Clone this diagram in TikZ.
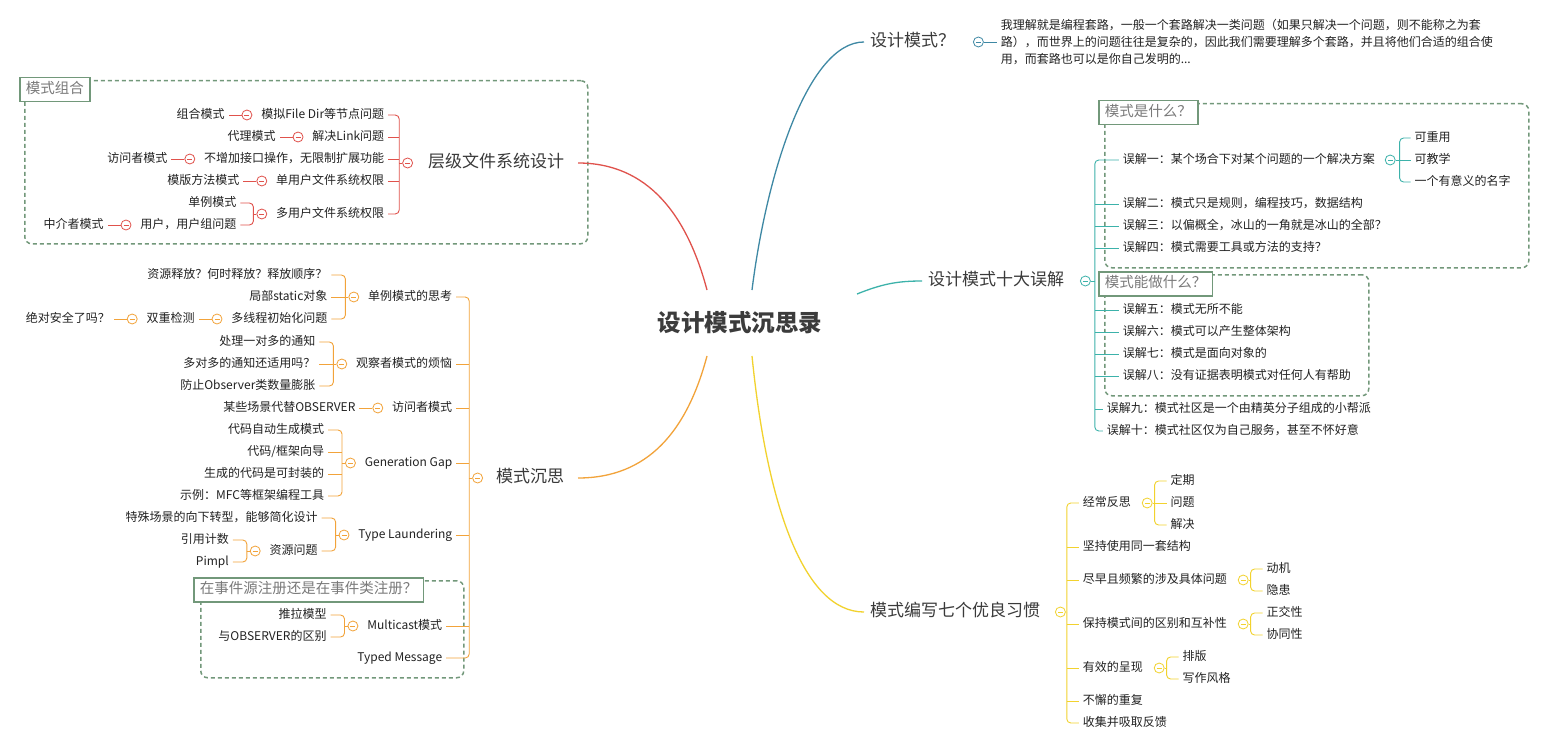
\documentclass[tikz,border=0pt]{standalone}
\usepackage{fontspec}
\setmainfont{Noto Sans CJK SC}
\usetikzlibrary{calc,positioning}
\definecolor{cRed}{HTML}{E0524C}
\definecolor{cBlue}{HTML}{3E88A4}
\definecolor{cTeal}{HTML}{3CB2AA}
\definecolor{cOrange}{HTML}{F2A33A}
\definecolor{cYellow}{HTML}{F2D22E}
\definecolor{cGreen}{HTML}{72987A}
\definecolor{cText}{HTML}{222222}
\definecolor{cTopic}{HTML}{3A3A3A}
\definecolor{cRoot}{HTML}{3C3C3C}
\definecolor{cLbl}{HTML}{7A7A7A}
\newcommand\fsA{\fontsize{12}{14}\selectfont}
\newcommand\fsT{\fontsize{12}{17}\selectfont}
\newcommand\fsB{\fontsize{17}{20}\selectfont}
\newcommand\fsC{\fontsize{23.5}{28}\selectfont\bfseries}
\newcommand\fsL{\fontsize{14.5}{17}\selectfont}
\newcommand\brL[3]{\draw[#1,br,rounded corners=4pt] (#2) |- (#3.east);}
\newcommand\brR[3]{\draw[#1,br,rounded corners=4pt] (#2) |- (#3.west);}
\newcommand\tkL[3]{\draw[#1,br] (#3.east) -- (#3.east -| #2);}
\newcommand\tkR[3]{\draw[#1,br] (#3.west) -- (#3.west -| #2);}
\tikzset{
  leaf/.style={inner sep=0pt, outer xsep=4pt, outer ysep=0pt, text=cText, font=\fsA, text height=9.5pt, text depth=2.5pt},
  leafL/.style={leaf, anchor=east},
  leafR/.style={leaf, anchor=west},
  topic/.style={inner sep=0pt, outer sep=0pt, text=cTopic, font=\fsB, text height=13pt, text depth=3.5pt},
  rootn/.style={inner sep=0pt, outer sep=0pt, text=cRoot, font=\fsC, minimum width=234pt, minimum height=66pt},
  foldc/.style={circle, draw=#1, fill=white, line width=0.8pt, minimum size=10pt, inner sep=0pt,
    path picture={\draw[#1, line width=0.7pt] ([xshift=-2.5pt]path picture bounding box.center) -- ([xshift=2.5pt]path picture bounding box.center);}},
  br/.style={line width=0.9pt},
  mainc/.style={line width=1.3pt},
  grpbox/.style={draw=cGreen, dash pattern=on 4pt off 3pt, line width=1.5pt, rounded corners=7pt, anchor=north west, inner sep=0pt},
  grplbl/.style={draw=cGreen, fill=white, line width=1.5pt, text=cLbl, font=\fsL, inner xsep=6pt, inner ysep=5pt, text height=11pt, text depth=3pt, anchor=north west}
}
\begin{document}
\begin{tikzpicture}[x=1pt,y=-1pt]
\fill[white] (0,0) rectangle (1545,749);
\useasboundingbox (0,0) rectangle (1545,749);

% ---------- group boxes ----------
\node[grpbox, minimum width=563pt, minimum height=163pt] (g1) at (24,80) {};
\node[grpbox, minimum width=263pt, minimum height=97pt] (g2) at (200,580) {};
\node[grpbox, minimum width=424pt, minimum height=164pt] (g3) at (1104,103) {};
\node[grpbox, minimum width=264pt, minimum height=121pt] (g4) at (1104,274) {};

% ---------- root and main topics ----------
\node[rootn] (root) at (740,323) {设计模式沉思录};
\node[topic, anchor=west] (h1) at (428,163) {层级文件系统设计};
\node[topic, anchor=west] (h2) at (496,478) {模式沉思};
\node[topic, anchor=west] (h3) at (870,42) {设计模式？};
\node[topic, anchor=west] (h4) at (928,281) {设计模式十大误解};
\node[topic, anchor=west] (h5) at (870,612) {模式编写七个优良习惯};

\draw[cRed,mainc] ([xshift=-33pt]root.north) .. controls +(-20,-75) and +(70,0) .. ([xshift=14pt]h1.east);
\draw[cOrange,mainc] ([xshift=-33pt]root.south) .. controls +(-20,75) and +(70,0) .. ([xshift=14pt]h2.east);
\draw[cBlue,mainc] ([xshift=12pt]root.north) .. controls +(15,-120) and +(-55,0) .. ([xshift=-6pt]h3.west);
\draw[cTeal,mainc] ([yshift=29pt]root.east) .. controls +(25,-10) and +(-25,0) .. ([xshift=-6pt]h4.west);
\draw[cYellow,mainc] ([xshift=12pt]root.south) .. controls +(15,150) and +(-60,0) .. ([xshift=-6pt]h5.west);

% ---------- 层级文件系统设计 (red) ----------
\node[foldc=cRed, left=15pt of h1] (fh1) {};
\coordinate (bh1) at ([xshift=-3pt]fh1.west);
\node[leafL] (a1) at ([shift={(-11,-48)}]bh1) {模拟File Dir等节点问题};
\node[leafL] (a2) at ([shift={(-11,-26)}]bh1) {解决Link问题};
\node[leafL] (a3) at ([shift={(-11,-4)}]bh1) {不增加接口操作，无限制扩展功能};
\node[leafL] (a4) at ([shift={(-11,18)}]bh1) {单用户文件系统权限};
\node[leafL] (a5) at ([shift={(-11,51)}]bh1) {多用户文件系统权限};
\draw[cRed,br] (fh1.west) -- (bh1);
\brL{cRed}{bh1}{a1}\tkL{cRed}{bh1}{a2}\tkL{cRed}{bh1}{a3}\tkL{cRed}{bh1}{a4}\brL{cRed}{bh1}{a5}

\node[foldc=cRed, left=5pt of a1] (fa1) {};
\node[leafL, left=13pt of fa1] (b1) {组合模式};
\draw[cRed,br] (fa1.west) -- (b1.east);
\node[foldc=cRed, left=5pt of a2] (fa2) {};
\node[leafL, left=13pt of fa2] (b2) {代理模式};
\draw[cRed,br] (fa2.west) -- (b2.east);
\node[foldc=cRed, left=5pt of a3] (fa3) {};
\node[leafL, left=13pt of fa3] (b3) {访问者模式};
\draw[cRed,br] (fa3.west) -- (b3.east);
\node[foldc=cRed, left=5pt of a4] (fa4) {};
\node[leafL, left=13pt of fa4] (b4) {模版方法模式};
\draw[cRed,br] (fa4.west) -- (b4.east);
\node[foldc=cRed, left=5pt of a5] (fa5) {};
\coordinate (ba5) at ([xshift=-3pt]fa5.west);
\node[leafL] (c1) at ([shift={(-13,-11)}]ba5) {单例模式};
\node[leafL] (c2) at ([shift={(-13,11)}]ba5) {用户，用户组问题};
\draw[cRed,br] (fa5.west) -- (ba5);
\brL{cRed}{ba5}{c1}\brL{cRed}{ba5}{c2}
\node[foldc=cRed, left=5pt of c2] (fc2) {};
\node[leafL, left=13pt of fc2] (d1) {中介者模式};
\draw[cRed,br] (fc2.west) -- (d1.east);

% ---------- 模式沉思 (orange) ----------
\node[foldc=cOrange, left=13pt of h2] (fh2) {};
\coordinate (bh2) at ([xshift=-3pt]fh2.west);
\node[leafL] (o1) at ([shift={(-13,-181)}]bh2) {单例模式的思考};
\node[leafL] (o2) at ([shift={(-13,-114)}]bh2) {观察者模式的烦恼};
\node[leafL] (o3) at ([shift={(-13,-70)}]bh2) {访问者模式};
\node[leafL] (o4) at ([shift={(-13,-15)}]bh2) {Generation Gap};
\node[leafL] (o5) at ([shift={(-13,57)}]bh2) {Type Laundering};
\node[leafL] (o6) at ([shift={(-23,148)}]bh2) {Multicast模式};
\node[leafL] (o7) at ([shift={(-23,180)}]bh2) {Typed Message};
\draw[cOrange,br] (fh2.west) -- (bh2);
\brL{cOrange}{bh2}{o1}\tkL{cOrange}{bh2}{o2}\tkL{cOrange}{bh2}{o3}\tkL{cOrange}{bh2}{o4}
\tkL{cOrange}{bh2}{o5}\tkL{cOrange}{bh2}{o6}\brL{cOrange}{bh2}{o7}

\node[foldc=cOrange, left=5pt of o1] (fo1) {};
\coordinate (bo1) at ([xshift=-3pt]fo1.west);
\node[leafL] (p1) at ([shift={(-14,-22)}]bo1) {资源释放？何时释放？释放顺序？};
\node[leafL] (p2) at ([shift={(-14,0)}]bo1) {局部static对象};
\node[leafL] (p3) at ([shift={(-14,22)}]bo1) {多线程初始化问题};
\draw[cOrange,br] (fo1.west) -- (bo1);
\brL{cOrange}{bo1}{p1}\tkL{cOrange}{bo1}{p2}\brL{cOrange}{bo1}{p3}
\node[foldc=cOrange, left=5pt of p3] (fp3) {};
\node[leafL, left=13pt of fp3] (q1) {双重检测};
\draw[cOrange,br] (fp3.west) -- (q1.east);
\node[foldc=cOrange, left=5pt of q1] (fq1) {};
\node[leafL, left=13pt of fq1] (r1) {绝对安全了吗？};
\draw[cOrange,br] (fq1.west) -- (r1.east);

\node[foldc=cOrange, left=5pt of o2] (fo2) {};
\coordinate (bo2) at ([xshift=-3pt]fo2.west);
\node[leafL] (s1) at ([shift={(-14,-22)}]bo2) {处理一对多的通知};
\node[leafL] (s2) at ([shift={(-14,0)}]bo2) {多对多的通知还适用吗？};
\node[leafL] (s3) at ([shift={(-14,22)}]bo2) {防止Observer类数量膨胀};
\draw[cOrange,br] (fo2.west) -- (bo2);
\brL{cOrange}{bo2}{s1}\tkL{cOrange}{bo2}{s2}\brL{cOrange}{bo2}{s3}

\node[foldc=cOrange, left=5pt of o3] (fo3) {};
\node[leafL, left=13pt of fo3] (v1) {某些场景代替OBSERVER};
\draw[cOrange,br] (fo3.west) -- (v1.east);

\node[foldc=cOrange, left=5pt of o4] (fo4) {};
\coordinate (bo4) at ([xshift=-3pt]fo4.west);
\node[leafL] (w1) at ([shift={(-14,-33)}]bo4) {代码自动生成模式};
\node[leafL] (w2) at ([shift={(-14,-11)}]bo4) {代码/框架向导};
\node[leafL] (w3) at ([shift={(-14,11)}]bo4) {生成的代码是可封装的};
\node[leafL] (w4) at ([shift={(-14,33)}]bo4) {示例：MFC等框架编程工具};
\draw[cOrange,br] (fo4.west) -- (bo4);
\brL{cOrange}{bo4}{w1}\tkL{cOrange}{bo4}{w2}\tkL{cOrange}{bo4}{w3}\brL{cOrange}{bo4}{w4}

\node[foldc=cOrange, left=5pt of o5] (fo5) {};
\coordinate (bo5) at ([xshift=-3pt]fo5.west);
\node[leafL] (x1) at ([shift={(-14,-17)}]bo5) {特殊场景的向下转型，能够简化设计};
\node[leafL] (x2) at ([shift={(-14,16)}]bo5) {资源问题};
\draw[cOrange,br] (fo5.west) -- (bo5);
\brL{cOrange}{bo5}{x1}\brL{cOrange}{bo5}{x2}
\node[foldc=cOrange, left=5pt of x2] (fx2) {};
\coordinate (bx2) at ([xshift=-3pt]fx2.west);
\node[leafL] (x3) at ([shift={(-14,-11)}]bx2) {引用计数};
\node[leafL] (x4) at ([shift={(-14,11)}]bx2) {Pimpl};
\draw[cOrange,br] (fx2.west) -- (bx2);
\brL{cOrange}{bx2}{x3}\brL{cOrange}{bx2}{x4}

\node[foldc=cOrange, left=5pt of o6] (fo6) {};
\coordinate (bo6) at ([xshift=-3pt]fo6.west);
\node[leafL] (u1) at ([shift={(-14,-11)}]bo6) {推拉模型};
\node[leafL] (u2) at ([shift={(-14,11)}]bo6) {与OBSERVER的区别};
\draw[cOrange,br] (fo6.west) -- (bo6);
\brL{cOrange}{bo6}{u1}\brL{cOrange}{bo6}{u2}

% ---------- 设计模式？ (blue) ----------
\node[foldc=cBlue, right=18pt of h3] (fh3) {};
\node[inner sep=0pt, outer xsep=4pt, anchor=west, right=13pt of fh3, font=\fsT, text=cText, align=left] (t1) {我理解就是编程套路，一般一个套路解决一类问题（如果只解决一个问题，则不能称之为套\\路），而世界上的问题往往是复杂的，因此我们需要理解多个套路，并且将他们合适的组合使\\用，而套路也可以是你自己发明的...};
\draw[cBlue,br] (fh3.east) -- (t1.west);

% ---------- 设计模式十大误解 (teal) ----------
\node[foldc=cTeal, right=16pt of h4] (fh4) {};
\coordinate (bh4) at ([xshift=4pt]fh4.east);
\node[leafR] (m1) at ([shift={(24,-121)}]bh4) {误解一：某个场合下对某个问题的一个解决方案};
\node[leafR] (m2) at ([shift={(24,-77)}]bh4) {误解二：模式只是规则，编程技巧，数据结构};
\node[leafR] (m3) at ([shift={(24,-55)}]bh4) {误解三：以偏概全，冰山的一角就是冰山的全部？};
\node[leafR] (m4) at ([shift={(24,-33)}]bh4) {误解四：模式需要工具或方法的支持？};
\node[leafR] (m5) at ([shift={(24,29)}]bh4) {误解五：模式无所不能};
\node[leafR] (m6) at ([shift={(24,51)}]bh4) {误解六：模式可以产生整体架构};
\node[leafR] (m7) at ([shift={(24,73)}]bh4) {误解七：模式是面向对象的};
\node[leafR] (m8) at ([shift={(24,95)}]bh4) {误解八：没有证据表明模式对任何人有帮助};
\node[leafR] (m9) at ([shift={(8,128)}]bh4) {误解九：模式社区是一个由精英分子组成的小帮派};
\node[leafR] (m10) at ([shift={(8,150)}]bh4) {误解十：模式社区仅为自己服务，甚至不怀好意};
\draw[cTeal,br] (fh4.east) -- (bh4);
\brR{cTeal}{bh4}{m1}\tkR{cTeal}{bh4}{m2}\tkR{cTeal}{bh4}{m3}\tkR{cTeal}{bh4}{m4}\tkR{cTeal}{bh4}{m5}
\tkR{cTeal}{bh4}{m6}\tkR{cTeal}{bh4}{m7}\tkR{cTeal}{bh4}{m8}\tkR{cTeal}{bh4}{m9}\brR{cTeal}{bh4}{m10}
\node[foldc=cTeal, right=6pt of m1] (fm1) {};
\coordinate (bm1) at ([xshift=4pt]fm1.east);
\node[leafR] (n1) at ([shift={(11,-22)}]bm1) {可重用};
\node[leafR] (n2) at ([shift={(11,0)}]bm1) {可教学};
\node[leafR] (n3) at ([shift={(11,22)}]bm1) {一个有意义的名字};
\draw[cTeal,br] (fm1.east) -- (bm1);
\brR{cTeal}{bm1}{n1}\tkR{cTeal}{bm1}{n2}\brR{cTeal}{bm1}{n3}

% ---------- 模式编写七个优良习惯 (yellow) ----------
\node[foldc=cYellow, right=15pt of h5] (fh5) {};
\coordinate (bh5) at ([xshift=1pt]fh5.east);
\node[leafR] (y1) at ([shift={(12,-109)}]bh5) {经常反思};
\node[leafR] (y2) at ([shift={(12,-65)}]bh5) {坚持使用同一套结构};
\node[leafR] (y3) at ([shift={(12,-32)}]bh5) {尽早且频繁的涉及具体问题};
\node[leafR] (y4) at ([shift={(12,12)}]bh5) {保持模式间的区别和互补性};
\node[leafR] (y5) at ([shift={(12,56)}]bh5) {有效的呈现};
\node[leafR] (y6) at ([shift={(12,89)}]bh5) {不懈的重复};
\node[leafR] (y7) at ([shift={(12,111)}]bh5) {收集并吸取反馈};
\brR{cYellow}{bh5}{y1}\tkR{cYellow}{bh5}{y2}\tkR{cYellow}{bh5}{y3}\tkR{cYellow}{bh5}{y4}
\tkR{cYellow}{bh5}{y5}\tkR{cYellow}{bh5}{y6}\brR{cYellow}{bh5}{y7}

\node[foldc=cYellow, right=7pt of y1] (fy1) {};
\coordinate (by1) at ([xshift=2pt]fy1.east);
\node[leafR] (k1) at ([shift={(12,-22)}]by1) {定期};
\node[leafR] (k2) at ([shift={(12,0)}]by1) {问题};
\node[leafR] (k3) at ([shift={(12,22)}]by1) {解决};
\draw[cYellow,br] (fy1.east) -- (by1);
\brR{cYellow}{by1}{k1}\tkR{cYellow}{by1}{k2}\brR{cYellow}{by1}{k3}

\node[foldc=cYellow, right=7pt of y3] (fy3) {};
\coordinate (by3) at ([xshift=2pt]fy3.east);
\node[leafR] (k4) at ([shift={(12,-11)}]by3) {动机};
\node[leafR] (k5) at ([shift={(12,11)}]by3) {隐患};
\draw[cYellow,br] (fy3.east) -- (by3);
\brR{cYellow}{by3}{k4}\brR{cYellow}{by3}{k5}

\node[foldc=cYellow, right=7pt of y4] (fy4) {};
\coordinate (by4) at ([xshift=2pt]fy4.east);
\node[leafR] (k6) at ([shift={(12,-11)}]by4) {正交性};
\node[leafR] (k7) at ([shift={(12,11)}]by4) {协同性};
\draw[cYellow,br] (fy4.east) -- (by4);
\brR{cYellow}{by4}{k6}\brR{cYellow}{by4}{k7}

\node[foldc=cYellow, right=7pt of y5] (fy5) {};
\coordinate (by5) at ([xshift=2pt]fy5.east);
\node[leafR] (k8) at ([shift={(12,-11)}]by5) {排版};
\node[leafR] (k9) at ([shift={(12,11)}]by5) {写作风格};
\draw[cYellow,br] (fy5.east) -- (by5);
\brR{cYellow}{by5}{k8}\brR{cYellow}{by5}{k9}

% ---------- group labels ----------
\node[grplbl] (l1) at (19,77) {模式组合};
\node[grplbl] (l2) at (193,577) {在事件源注册还是在事件类注册？};
\node[grplbl] (l3) at (1098,100) {模式是什么？};
\node[grplbl] (l4) at (1098,271) {模式能做什么？};
\end{tikzpicture}
\end{document}
